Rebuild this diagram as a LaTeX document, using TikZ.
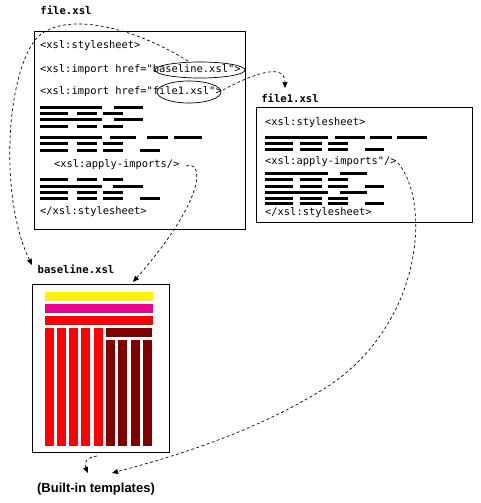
\documentclass[tikz,border=0pt]{standalone}
\usepackage{fontspec}
\setmainfont{Liberation Sans}
\newfontfamily\codefont{DejaVu Sans Mono}
\usetikzlibrary{arrows.meta}
\newcommand\hb[3]{\fill (#1,#3-1.5) rectangle (#2,#3+1.5);}
\tikzset{
  code/.style={anchor=west,inner sep=0pt,font=\codefont\fontsize{10.4}{12}\selectfont},
  title/.style={anchor=center,inner sep=0pt,font=\codefont\bfseries\fontsize{10.6}{12}\selectfont},
  box/.style={draw,line width=0.9pt},
  link/.style={draw,line width=0.7pt,dash pattern=on 2.8pt off 2.6pt,-{Triangle[length=6pt,width=5pt]}}
}
\begin{document}
\begin{tikzpicture}[x=1pt,y=-1pt]
\useasboundingbox (0,0) rectangle (481,503);
% file.xsl
\node[title] (t1) at (66,10) {file.xsl};
\draw[box] (34,31) rectangle (245,229);
\node[code] (a1) at (40,46) {<xsl:stylesheet>};
\node[code] (a2) at (40,70) {<xsl:import href="baseline.xsl">};
\node[code] (a3) at (40,92) {<xsl:import href="file1.xsl">};
\foreach \y in {107,119}{\hb{40}{102}{\y}\hb{114}{143}{\y}}
\foreach \y in {113,126,143}{\hb{40}{68}{\y}\hb{77}{97}{\y}\hb{103}{123}{\y}}
\hb{40}{102}{137}\hb{110}{136}{137}\hb{147}{168}{137}\hb{174}{202}{137}
\hb{40}{68}{150}\hb{77}{97}{150}\hb{103}{123}{150}\hb{140}{160}{150}
\node[code] (a4) at (54,165) {<xsl:apply-imports/>};
\foreach \y in {179,192}{\hb{40}{68}{\y}\hb{77}{97}{\y}\hb{103}{123}{\y}}
\hb{40}{102}{186}\hb{113}{143}{186}
\hb{40}{68}{198}\hb{77}{97}{198}\hb{103}{123}{198}\hb{140}{160}{198}
\node[code] (a5) at (40,212) {</xsl:stylesheet>};
\draw[line width=0.7pt] (200,70) ellipse [x radius=45, y radius=8];
\draw[line width=0.7pt] (189,92) ellipse [x radius=32, y radius=11];
% file1.xsl
\node[title] (t2) at (290,98) {file1.xsl};
\draw[box] (256,107) rectangle (472,222);
\node[code] (b1) at (265,123) {<xsl:stylesheet>};
\hb{265}{328}{137}\hb{335}{365}{137}\hb{370}{392}{137}\hb{397}{427}{137}
\foreach \y in {143,179,198}{\hb{265}{293}{\y}\hb{300}{322}{\y}\hb{328}{348}{\y}}
\foreach \y in {149,186,203}{\hb{265}{293}{\y}\hb{300}{322}{\y}\hb{328}{348}{\y}\hb{365}{384}{\y}}
\node[code] (b2) at (265,162) {<xsl:apply-imports"/>};
\foreach \y in {173,192}{\hb{265}{328}{\y}\hb{340}{367}{\y}}
\node[code] (b3) at (265,213) {</xsl:stylesheet>};
% baseline.xsl
\node[title] (t3) at (76,269) {baseline.xsl};
\draw[box] (32,284) rectangle (169,452);
\fill[yellow] (45,292) rectangle (153,301);
\fill[magenta] (45,304) rectangle (153,313);
\fill[red] (45,316) rectangle (153,325);
\foreach \x in {45,57,69,81,94}{\fill[red] (\x,328) rectangle (\x+9,446);}
\fill[red!50!black] (106,328) rectangle (152,337);
\foreach \x in {106,118,130.5,143}{\fill[red!50!black] (\x,340) rectangle (\x+9,446);}
% built-in
\node[font=\bfseries\fontsize{13}{15}\selectfont,inner sep=0pt] (bi) at (96,489) {(Built-in templates)};
% connectors
\coordinate (s1) at (188,61);
\coordinate (e1) at (32,265);
\coordinate (s2) at (223,90);
\coordinate (e2) at (285,88);
\coordinate (s3) at (186,166);
\coordinate (e3) at (133,282);
\coordinate (s4) at (398,163);
\coordinate (e4) at (112,473);
\coordinate (s5) at (97,456);
\coordinate (e5) at (88,473);
\path[link] (s1) .. controls (130,25) and (60,10) .. (35,40) .. controls (5,80) and (0,200) .. (e1);
\path[link] (s2) .. controls (245,78) and (285,60) .. (e2);
\path[link] (s3) .. controls (205,160) and (205,200) .. (e3);
\path[link] (s4) .. controls (430,200) and (425,320) .. (330,385) .. controls (260,430) and (180,455) .. (e4);
\path[link] (s5) .. controls (88,457) and (83,462) .. (e5);
\end{tikzpicture}
\end{document}
